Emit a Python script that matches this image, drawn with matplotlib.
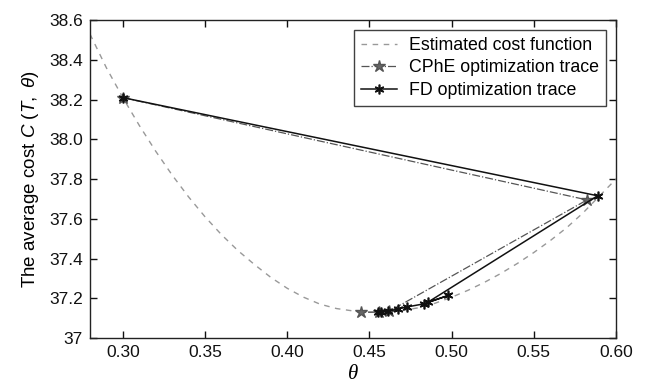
import matplotlib
matplotlib.use("Agg")
import matplotlib.pyplot as plt

# Estimated cost function
theta_curve = [0.28, 0.29, 0.30, 0.31, 0.32, 0.33, 0.34, 0.35, 0.36, 0.37, 0.38,
               0.39, 0.40, 0.41, 0.42, 0.43, 0.44, 0.45, 0.46, 0.47, 0.48, 0.49,
               0.50, 0.51, 0.52, 0.53, 0.54, 0.55, 0.56, 0.57, 0.58, 0.59, 0.60]
cost_curve = [38.53, 38.36, 38.21, 38.07, 37.94, 37.82, 37.71, 37.61, 37.52, 37.44, 37.37,
              37.305, 37.25, 37.205, 37.17, 37.148, 37.136, 37.13, 37.131, 37.138, 37.152, 37.175,
              37.205, 37.24, 37.28, 37.325, 37.375, 37.43, 37.49, 37.555, 37.63, 37.715, 37.80]

# CPhE optimization trace
cphe_theta = [0.300, 0.5824, 0.4620, 0.4560, 0.4448]
cphe_cost = [38.21, 37.695, 37.134, 37.130, 37.129]

# FD optimization trace
fd_theta = [0.300, 0.5888, 0.4854, 0.4980, 0.4834, 0.4728, 0.4674, 0.4614, 0.4570, 0.4554]
fd_cost = [38.21, 37.716, 37.179, 37.214, 37.172, 37.156, 37.146, 37.134, 37.131, 37.129]

xticks = [0.30, 0.35, 0.40, 0.45, 0.50, 0.55, 0.60]
xticklabels = ["0.30", "0.35", "0.40", "0.45", "0.50", "0.55", "0.60"]
yticks = [37.0, 37.2, 37.4, 37.6, 37.8, 38.0, 38.2, 38.4, 38.6]
yticklabels = ["37", "37.2", "37.4", "37.6", "37.8", "38.0", "38.2", "38.4", "38.6"]

plt.rcParams['font.family'] = ['Liberation Sans', 'DejaVu Sans']
plt.rcParams['mathtext.fontset'] = 'custom'
plt.rcParams['mathtext.rm'] = 'Liberation Sans'
plt.rcParams['mathtext.it'] = 'Liberation Sans:italic'

fig = plt.figure(figsize=(6.45, 3.88), dpi=100)
ax = fig.add_axes([0.1395, 0.129, 0.8155, 0.819])

ax.plot(theta_curve, cost_curve, linestyle=(0, (4, 4)), color='#999999', lw=1.0,
        label='Estimated cost function')
ax.plot(cphe_theta, cphe_cost, linestyle='-.', color='#555555', lw=0.9,
        marker='*', markersize=9, markerfacecolor='#666666', markeredgecolor='#555555',
        label='CPhE optimization trace')
ax.plot(fd_theta, fd_cost, linestyle='-', color='#111111', lw=1.1,
        marker=(6, 2, 0), markersize=7, markeredgewidth=1.2, markeredgecolor='#111111',
        label='FD optimization trace')

ax.set_xlim(0.28, 0.60)
ax.set_ylim(37.0, 38.6)
ax.set_xticks(xticks)
ax.set_xticklabels(xticklabels)
ax.set_yticks(yticks)
ax.set_yticklabels(yticklabels)
ax.tick_params(direction='in', top=True, right=True, length=5, width=1,
               labelsize=12.5, colors='#111111', pad=5)
for s in ax.spines.values():
    s.set_linewidth(1.0)
    s.set_color('#222222')

ax.set_xlabel('θ', family='Liberation Serif', style='italic', fontsize=15, labelpad=4)
ax.set_ylabel(r'The average cost $C\ (T,\ \theta)$', fontsize=13.5, labelpad=6)

leg = ax.legend(loc='upper right', fontsize=12.8, frameon=True, fancybox=False,
                edgecolor='#111111', borderaxespad=0.55, handlelength=2.0,
                borderpad=0.4, labelspacing=0.3, handletextpad=0.7)
leg.get_frame().set_linewidth(1.0)

fig.savefig('out.png', dpi=100)
